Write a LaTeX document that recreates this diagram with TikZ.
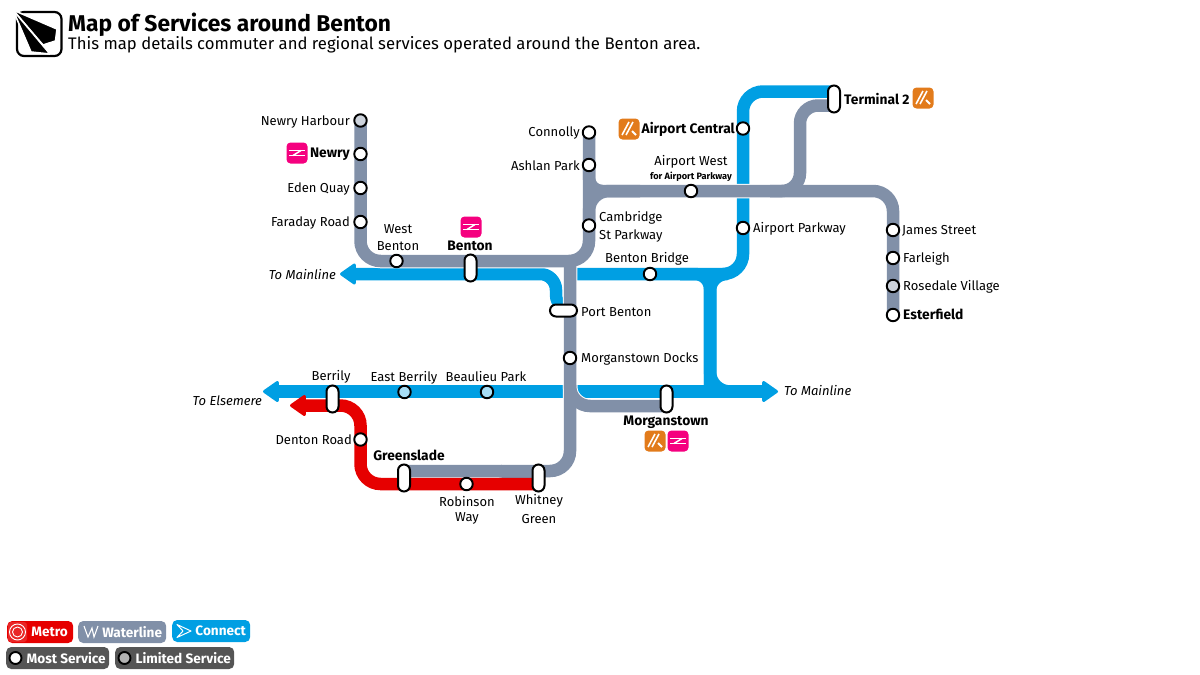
\documentclass[tikz,border=0pt]{standalone}
\usepackage{fontspec}
\setmainfont{Fira Sans}
\usetikzlibrary{arrows.meta,backgrounds}
\definecolor{metrored}{HTML}{E60000}
\definecolor{waterlinegrey}{HTML}{8190A8}
\definecolor{connectblue}{HTML}{009FE3}
\definecolor{railpink}{HTML}{F5007F}
\definecolor{airorange}{HTML}{E27B1B}
\definecolor{legendgrey}{HTML}{555555}
\tikzset{
  route/.style={line width=12.5pt,line cap=butt,rounded corners=20pt},
  metro/.style={route,draw=metrored},
  waterline/.style={route,draw=waterlinegrey},
  casing/.style={route,draw=white,line width=14.5pt},
  connect/.style={route,draw=connectblue},
  headed/.style={-{Triangle[length=17pt,width=23pt,round,line width=3pt]}},
  twoheaded/.style={{Triangle[length=17pt,width=23pt,round,line width=3pt]}-{Triangle[length=17pt,width=23pt,round,line width=3pt]}},
  stop/.style={circle,draw=black,fill=white,line width=1.9pt,minimum size=12.5pt,inner sep=0pt},
  limited/.style={stop,fill=#1},
  pill/.style={rectangle,rounded corners=6pt,draw=black,fill=white,line width=2pt,minimum width=12pt,minimum height=27pt,inner sep=0pt},
  widepill/.style={pill,minimum width=27pt,minimum height=12pt},
  lbl/.style={font=\fontsize{13}{15}\selectfont,inner sep=0pt,yshift=-.8pt},
  lblb/.style={lbl,font=\fontsize{13.8}{15}\selectfont\bfseries},
  lbli/.style={lbl,font=\fontsize{13}{15}\selectfont\itshape},
  badge/.style={rectangle,rounded corners=4pt,minimum size=21pt,inner sep=0pt},
  key/.style={rectangle,rounded corners=5pt,minimum height=22pt,inner sep=0pt,font=\fontsize{13.6}{15}\selectfont\bfseries,text=white},
}
% rail badge, name/x/y
\newcommand{\railbadge}[3]{
  \node[badge,fill=railpink] (#1) at (#2,#3) {};
  \draw[white,line width=1.5pt] ([shift={(-8,-2.5)}]#1.center) -- ([shift={(8,-2.5)}]#1.center);
  \draw[white,line width=1.5pt] ([shift={(-8,2.5)}]#1.center) -- ([shift={(8,2.5)}]#1.center);
  \draw[white,line width=1.5pt] ([shift={(-4,2.5)}]#1.center) -- ([shift={(4,-2.5)}]#1.center);
}
% airport badge, name/x/y
\newcommand{\airbadge}[3]{
  \node[badge,fill=airorange] (#1) at (#2,#3) {};
  \draw[white,line width=1.6pt] ([shift={(-7,6)}]#1.center) -- ([shift={(0,-7)}]#1.center);
  \draw[white,line width=1.6pt] ([shift={(-3,6)}]#1.center) -- ([shift={(4,-7)}]#1.center);
  \draw[white,line width=2pt] ([shift={(3,2)}]#1.center) -- ([shift={(7,6)}]#1.center);
}
% the grey routes, drawn once as casing and once on top of it
\newcommand{\greyroutes}[1]{
  \draw[#1] (harbour.center) -- (g1) -- (g2) -- (connolly.center);
  \draw[#1,rounded corners=13pt] (ashlan.center) -- (g3) -- (g4);
  \draw[#1] (cambridge.center) -- (g3) -- (g5) -- (esterfield.center);
  \draw[#1,rounded corners=18pt] (g6) -- (g7) -- (g8) -- (t2grey);
  \draw[#1] (g9) -- (g10) -- (g11) -- (gsgrey);
  \draw[#1] (g12) -- (g13) -- (mggrey);
  \draw[#1] (wgreen.center) -- (g11);
}
\begin{document}
\begin{tikzpicture}[x=1pt,y=-1pt]
  \useasboundingbox (0,0) rectangle (1200,675);

  % Logo and heading
  \draw[line width=2.2pt,rounded corners=7pt] (17,12) rectangle (61.5,56);
  \filldraw[fill=black,draw=white,line width=1.6pt,line join=bevel] (13,10) -- (57,29) -- (55.5,41) -- (43,45) -- cycle;
  \filldraw[fill=black,draw=white,line width=1.6pt,line join=bevel] (13,10) -- (50,54) -- (31,52) -- cycle;
  \node[anchor=west,inner sep=0pt,font=\fontsize{22.8}{24}\selectfont\bfseries] (title) at (68,25) {Map of Services around Benton};
  \node[anchor=west,inner sep=0pt,font=\fontsize{16.7}{18}\selectfont] (subtitle) at (68,45) {This map details commuter and regional services operated around the Benton area.};

  % Stations
  \foreach \name/\x/\y in {newry/360.5/154,eden/360.5/188,faraday/360.5/222,wbenton/396.5/261,
      connolly/589/132.5,ashlan/589/165,cambridge/589/225.5,acentral/743/128.5,awest/691/191,
      apark/743/228,james/893/230,farleigh/893/258,esterfield/893/315,bbridge/650/274,
      mdocks/570/358,denton/360.5/439.5,robinson/466.5/484} {
    \node[stop] (\name) at (\x,\y) {};
  }
  \foreach \name/\x/\y in {harbour/360.5/120.5,rosedale/893/286} {
    \node[limited=waterlinegrey!40] (\name) at (\x,\y) {};
  }
  \foreach \name/\x/\y in {eberrily/404.5/392,beaulieu/487/392} {
    \node[limited=connectblue!35] (\name) at (\x,\y) {};
  }
  \foreach \name/\x/\y in {benton/470.5/268,terminal/834/99,morgan/666.5/399,berrily/332.5/399,
      greenslade/404/478,wgreen/538.5/478} {
    \node[pill] (\name) at (\x,\y) {};
  }
  \node[widepill] (pbenton) at (563.5,310.5) {};

  % Corners and free ends of the routes
  \foreach \name/\x/\y in {g1/360.5/261,g2/589/261,g3/589/191,g4/640/191,g5/893/191,g6/770/191,g7/800/191,
      g8/800/105.5,t2grey/834/105.5,g9/570/261,g10/570/471,g11/500/471,gsgrey/404/471,
      g12/570/385,g13/570/406,mggrey/666.5/406,
      b1/834/91.5,b2/743/91.5,b3/743/274,b4/570/274,b5/710/274,b6/710/391.5,b7/778/391.5,
      b8/263/391.5,b9/340/274,b10/556/274,b11/735/391.5,b12/680/274,b13/727/274,
      r1/538.5/484,r2/360.5/484,r3/360.5/405.5,r4/290/405.5} {
    \coordinate (\name) at (\x,\y);
  }

  \begin{scope}[on background layer]
    % Connect
    \draw[connect] (b1) -- (b2) -- (b3) -- (b4);
    \draw[connect,rounded corners=17pt] (b13) -- (b5) -- (b6);
    \draw[connect,rounded corners=15pt] (b12) -- (b5) -- (b6);
    \draw[connect] (b5) -- (b6) -- (b11);
    \draw[connect,twoheaded] (b7) -- (b8);
    \draw[connect,headed,rounded corners=16pt] (pbenton.center) -| (b10) -- (b9);
    % Waterline
    \greyroutes{casing}
    \greyroutes{waterline}
    % Metro
    \draw[metro,headed] (r1) -- (r2) -- (r3) -- (r4);
  \end{scope}

  % Badges
  \railbadge{brnewry}{297}{153}
  \railbadge{brbenton}{471}{227}
  \railbadge{brmorgan}{678}{441}
  \airbadge{aircentral}{629}{129}
  \airbadge{airterminal}{923}{98}
  \airbadge{airmorgan}{655}{441}

  % Labels on the left of the stop
  \node[lbl,anchor=east] (lharbour) at (350,121) {Newry Harbour};
  \node[lblb,anchor=east] (lnewry) at (350,153) {Newry};
  \node[lbl,anchor=east] (leden) at (350,188) {Eden Quay};
  \node[lbl,anchor=east] (lfaraday) at (350,222) {Faraday Road};
  \node[lbl,anchor=east] (lconnolly) at (580,132) {Connolly};
  \node[lbl,anchor=east] (lashlan) at (580,165) {Ashlan Park};
  \node[lblb,anchor=east] (lacentral) at (735,129) {Airport Central};
  \node[lbl,anchor=east] (ldenton) at (352,439) {Denton Road};
  \node[lbli,anchor=east] (lmainw) at (336,274) {To Mainline};
  \node[lbli,anchor=east] (lelsemere) at (262,400) {To Elsemere};
  % Labels on the right of the stop
  \node[lblb,anchor=west] (lterminal) at (844,98) {Terminal 2};
  \node[lbl,anchor=west] (lcam) at (599,217) {Cambridge};
  \node[lbl,anchor=west] (lcamb) at (599,235) {St Parkway};
  \node[lbl,anchor=west] (lapark) at (753,228) {Airport Parkway};
  \node[lbl,anchor=west] (ljames) at (902,230) {James Street};
  \node[lbl,anchor=west] (lfarleigh) at (903,258) {Farleigh};
  \node[lbl,anchor=west] (lrosedale) at (903,286) {Rosedale Village};
  \node[lblb,anchor=west] (lesterfield) at (903,314) {Esterfield};
  \node[lbl,anchor=west] (lpbenton) at (581,311) {Port Benton};
  \node[lbl,anchor=west] (lmdocks) at (581,358) {Morganstown Docks};
  \node[lbli,anchor=west] (lmaine) at (784,390) {To Mainline};
  % Labels above or below
  \node[lbl] (lwest) at (398,228) {West};
  \node[lbl] (lwestb) at (398,245) {Benton};
  \node[lblb] (lbenton) at (470,245) {Benton};
  \node[lbl] (lawest) at (691,161) {Airport West};
  \node[lblb,font=\fontsize{9.2}{11}\selectfont\bfseries] (lawestb) at (691,175.5) {for Airport Parkway};
  \node[lbl] (lbbridge) at (647,258) {Benton Bridge};
  \node[lblb] (lmorgan) at (666,421) {Morganstown};
  \node[lbl] (lberrily) at (331,376) {Berrily};
  \node[lbl] (leberrily) at (404,377) {East Berrily};
  \node[lbl] (lbeaulieu) at (486,376) {Beaulieu Park};
  \node[lblb] (lgreenslade) at (409,455) {Greenslade};
  \node[lbl] (lrobinson) at (467,501) {Robinson};
  \node[lbl] (lrobinsonb) at (467,518) {Way};
  \node[lbl] (lwhitney) at (539,500) {Whitney};
  \node[lbl] (lwhitneyb) at (539,518) {Green};

  % Legend
  \node[key,fill=metrored,minimum width=66pt,anchor=west] (kmetro) at (7,632) {\hspace{19pt}Metro};
  \fill[white,opacity=.15,rounded corners=3pt] (8,622) rectangle (27,642);
  \draw[white,line width=.9pt] (17.5,632) circle [radius=8];
  \draw[white,line width=.9pt] (17.5,632) circle [radius=5];
  \node[key,fill=waterlinegrey,minimum width=88pt,anchor=west] (kwater) at (78,632) {\hspace{20pt}Waterline};
  \draw[white,line width=1.1pt] (84,626) -- (88,637) -- (92,628) -- (94,637) -- (98,626);
  \node[key,fill=connectblue,minimum width=78pt,anchor=west] (kconnect) at (172,631) {\hspace{19pt}Connect};
  \draw[white,line width=1pt,line join=round] (177,624.5) -- (191,631) -- (177,637.5) -- (183,631) -- cycle;
  \node[key,fill=legendgrey,minimum width=103pt,anchor=west] (kmost) at (6,658) {\hspace{17pt}Most Service};
  \node[stop,minimum size=12pt] (kmoststop) at (15.5,658) {};
  \node[key,fill=legendgrey,minimum width=119pt,anchor=west] (klimited) at (115,658) {\hspace{17pt}Limited Service};
  \node[limited=black!30,minimum size=12pt] (klimitedstop) at (124.5,658) {};
\end{tikzpicture}
\end{document}
